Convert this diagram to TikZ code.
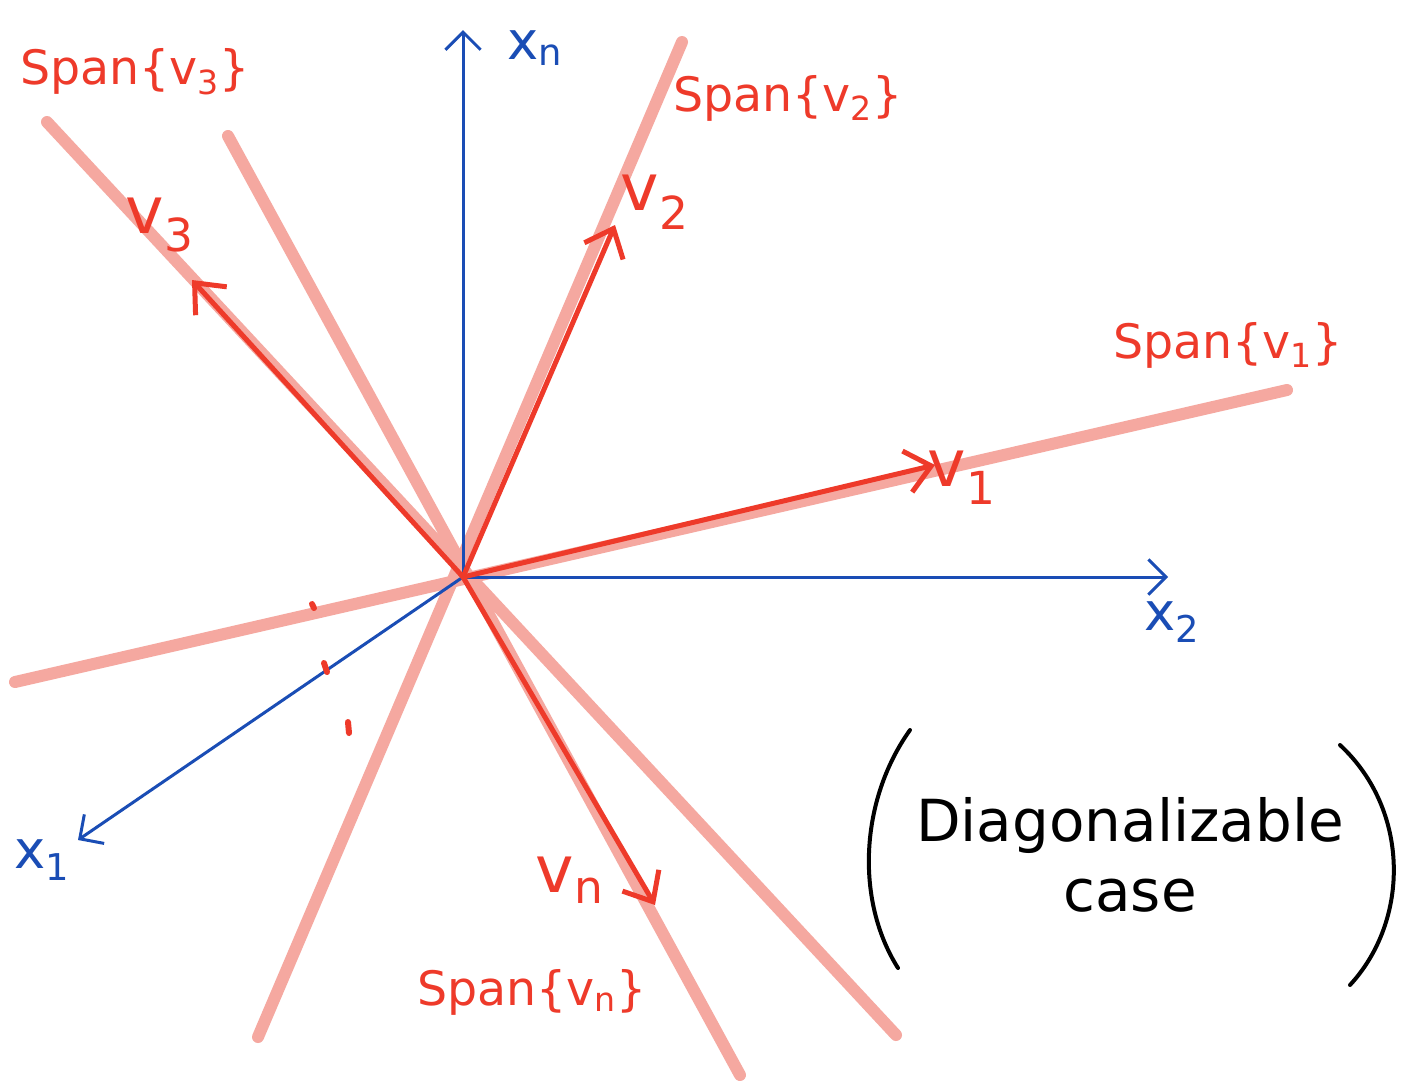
\documentclass[tikz,border=0pt]{standalone}
\usepackage{fontspec}
\setmainfont{DejaVu Sans}
\usetikzlibrary{arrows.meta}
\definecolor{pinkline}{HTML}{F5A8A0}
\definecolor{redv}{HTML}{EE3A2A}
\definecolor{bluex}{HTML}{1A4DB5}
\newcommand{\sbs}[1]{\textsubscript{#1}}
\begin{document}
\begin{tikzpicture}[x=0.02cm,y=-0.02cm,
  spanline/.style={pinkline, line width=12*0.02cm, line cap=round},
  vec/.style={redv, line width=5*0.02cm, line cap=round, -{Straight Barb[length=14pt,width=24pt,line width=5*0.02cm]}},
  axis/.style={bluex, line width=3*0.02cm, -{Straight Barb[length=10pt,width=20pt,line width=3*0.02cm]}},
  redlbl/.style={redv, font=\fontsize{27}{32}\selectfont, inner sep=0pt},
  veclbl/.style={redv, font=\fontsize{37}{44}\selectfont, inner sep=0pt},
  axlbl/.style={bluex, font=\fontsize{30}{34}\selectfont, inner sep=0pt},
  note/.style={black, font=\fontsize{33}{40}\selectfont, inner sep=0pt, align=center},
  dotmark/.style={redv, line width=6*0.02cm, line cap=round}]
\useasboundingbox (0,0) rectangle (1413,1083);
\fill[white] (0,0) rectangle (1413,1083);
% span lines
\coordinate (s1a) at (15,682);  \coordinate (s1b) at (1287,390);
\coordinate (s2a) at (258,1037); \coordinate (s2b) at (682,42);
\coordinate (s3a) at (47,122);  \coordinate (s3b) at (896,1035);
\coordinate (sna) at (228,136); \coordinate (snb) at (740,1075);
\draw[spanline] (s1a) -- (s1b);
\draw[spanline] (s2a) -- (s2b);
\draw[spanline] (s3a) -- (s3b);
\draw[spanline] (sna) -- (snb);
% axes
\coordinate (O) at (463,577);
\coordinate (xn) at (463,30);
\coordinate (x2) at (1168,577);
\coordinate (x1) at (78,840);
\draw[axis] (O) -- (xn);
\draw[axis] (O) -- (x2);
\draw[axis] (O) -- (x1);
\node[axlbl] (lxn) at (535,48) {x\sbs{n}};
\node[axlbl] (lx2) at (1172,622) {x\sbs{2}};
\node[axlbl] (lx1) at (42,860) {x\sbs{1}};
% vectors
\coordinate (v1) at (935,465);
\coordinate (v2) at (615,225);
\coordinate (v3) at (192,280);
\coordinate (vn) at (655,905);
\draw[vec] (O) -- (v1);
\draw[vec] (O) -- (v2);
\draw[vec] (O) -- (v3);
\draw[vec] (O) -- (vn);
\node[veclbl] (lv1) at (962,478) {v\sbs{1}};
\node[veclbl] (lv2) at (655,202) {v\sbs{2}};
\node[veclbl] (lv3) at (160,225) {v\sbs{3}};
\node[veclbl] (lvn) at (570,880) {v\sbs{n}};
% span labels
\node[redlbl] (sp3) at (135,72) {Span\{v\sbs{3}\}};
\node[redlbl] (sp2) at (788,98) {Span\{v\sbs{2}\}};
\node[redlbl] (sp1) at (1228,345) {Span\{v\sbs{1}\}};
\node[redlbl] (spn) at (532,992) {Span\{v\sbs{n}\}};
% dots
\coordinate (d1a) at (312,604); \coordinate (d1b) at (314,608);
\coordinate (d2a) at (324,663); \coordinate (d2b) at (327,672);
\coordinate (d3a) at (348,722); \coordinate (d3b) at (349,733);
\draw[dotmark] (d1a) -- (d1b);
\draw[dotmark] (d2a) -- (d2b);
\draw[dotmark] (d3a) -- (d3b);
% note
\node[note] (nt) at (1130,855) {Diagonalizable\\case};
\coordinate (lpa) at (910,730); \coordinate (lpb) at (898,968);
\coordinate (rpa) at (1340,745); \coordinate (rpb) at (1350,985);
\draw[black, line width=4*0.02cm, line cap=round] (lpa) .. controls (860,800) and (855,900) .. (lpb);
\draw[black, line width=4*0.02cm, line cap=round] (rpa) .. controls (1410,810) and (1410,920) .. (rpb);
\end{tikzpicture}
\end{document}
